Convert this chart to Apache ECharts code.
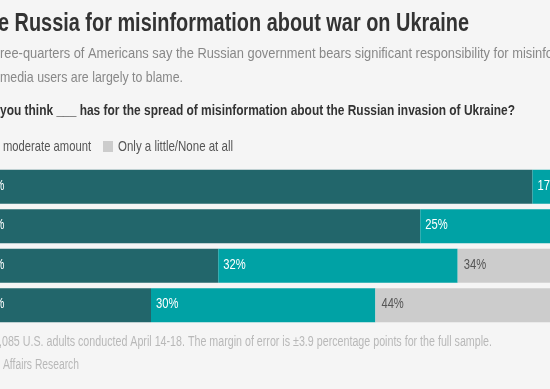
<!DOCTYPE html>
<html>
<head>
<meta charset="utf-8">
<script src="https://cdn.jsdelivr.net/npm/echarts@6/dist/echarts.min.js"></script>
<style>
html,body{margin:0;padding:0;background:#f5f5f5;}
#chart{width:550px;height:389px;}
</style>
</head>
<body>
<div id="chart"></div>
<script>
// Data
var categories = ['Russian government', 'Social media users', 'U.S. government', 'News media'];
var greatDeal = [76, 61, 34, 25];
var moderate = [17, 25, 32, 30];
var little = [7, 14, 34, 44];
var seriesNames = ['A great deal/Quite a bit', 'A moderate amount', 'Only a little/None at all'];

var titleText = 'e Russia for misinformation about war on Ukraine';
var subLine1a = 'ree-quarters of Americans say the Russian government bears significant responsibility';
var subLine1b = ' for misinformation';
var subLine2 = 'media users are largely to blame.';
var questionText = 'you think ___ has for the spread of misinformation about the Russian invasion of Ukraine?';
var legendText1 = 'moderate amount';
var legendText2 = 'Only a little/None at all';
var footer1 = ',085 U.S. adults conducted April 14-18. The margin of error is \u00b13.9 percentage points for the full sample.';
var footer2 = 'Affairs Research';

var FONT = '"Liberation Sans",Arial,sans-serif';
var ctx = document.createElement('canvas').getContext('2d');
function measure(t, font){ ctx.font = font; return ctx.measureText(t).width; }

// y is the text baseline
function fitText(text, measureText, x, y, width, size, weight, color){
  var font = weight + ' ' + size + 'px ' + FONT;
  var s = width / measure(measureText || text, font);
  return {
    type: 'text', x: x, y: y + Math.round(size * 0.21), scaleX: s, scaleY: 1, silent: true,
    style: { text: text, font: font, fill: color, align: 'left', verticalAlign: 'bottom' }
  };
}
function condText(text, x, y, size, scale, color){
  return {
    type: 'text', x: x, y: y, scaleX: scale, scaleY: 1, silent: true, z: 100,
    style: { text: text, font: 'normal ' + size + 'px ' + FONT, fill: color, align: 'left', verticalAlign: 'middle' }
  };
}

var graphics = [
  fitText(titleText, null, -2, 32, 471, 25, 'bold', '#333333'),
  fitText(subLine1a + subLine1b, subLine1a, 0, 58, 490, 15, 'normal', '#888888'),
  fitText(subLine2, null, 0, 82, 183, 15, 'normal', '#888888'),
  fitText(questionText, null, 0, 115, 515, 15, 'bold', '#333333'),
  fitText(legendText1, null, 3, 151, 88, 15, 'normal', '#555555'),
  { type: 'rect', shape: { x: 103, y: 141, width: 10, height: 11 }, style: { fill: '#cccccc' }, silent: true },
  fitText(legendText2, null, 118, 151, 115, 15, 'normal', '#555555'),
  fitText(footer1, null, -1, 346, 493, 14, 'normal', '#b8b8b8'),
  fitText(footer2, null, 3, 369, 76, 14, 'normal', '#b8b8b8')
];

// axis window: 7.48 px per percentage point, 0% sits 36px left of the canvas edge
var PX_PER = 7.48, ZERO_X = -36, GRID_W = 550;
var xMin = -ZERO_X / PX_PER;
var xMax = xMin + GRID_W / PX_PER;

var chart = echarts.init(document.getElementById('chart'), null, { renderer: 'canvas' });
var barBase = { type: 'bar', stack: 'a', barWidth: 34, clip: false, label: { show: false } };
chart.setOption({
  backgroundColor: '#f5f5f5',
  animation: false,
  grid: { left: 0, width: GRID_W, top: 167, height: 158, containLabel: false },
  xAxis: { type: 'value', min: xMin, max: xMax, show: false },
  yAxis: { type: 'category', data: categories, inverse: true, show: false },
  series: [
    Object.assign({}, barBase, { name: seriesNames[0], data: greatDeal, itemStyle: { color: '#22666b' } }),
    Object.assign({}, barBase, { name: seriesNames[1], data: moderate, itemStyle: { color: '#00a2a5' } }),
    Object.assign({}, barBase, { name: seriesNames[2], data: little, itemStyle: { color: '#cccccc' } })
  ]
});

// value labels, placed through the chart's own scales
var stacks = [greatDeal, moderate, little];
var labelColors = ['#ffffff', '#ffffff', '#555555'];
var labelOffsets = [18, 5, 6];
categories.forEach(function(c, i){
  var start = 0;
  stacks.forEach(function(arr, s){
    var p = chart.convertToPixel({ gridIndex: 0 }, [start, i]);
    graphics.push(condText(arr[i] + '%', p[0] + labelOffsets[s], p[1] - 1, 14, 0.8, labelColors[s]));
    start += arr[i];
  });
});
chart.setOption({ graphic: graphics });
</script>
</body>
</html>
